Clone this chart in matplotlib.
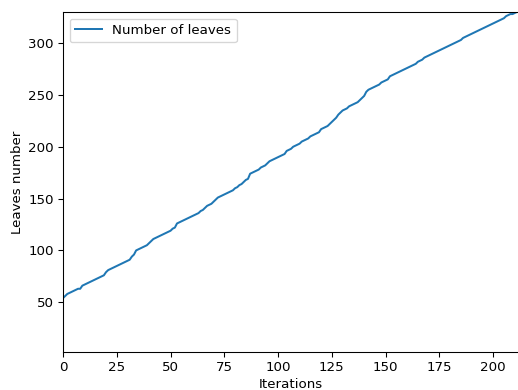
import matplotlib
matplotlib.use("Agg")
import matplotlib.pyplot as plt

# leaf count recorded after each iteration
leaves = [
    54, 56, 58, 59, 60, 61, 62, 63, 63, 66,
    67, 68, 69, 70, 71, 72, 73, 74, 75, 76,
    79, 81, 82, 83, 84, 85, 86, 87, 88, 89,
    90, 91, 94, 96, 100, 101, 102, 103, 104, 105,
    107, 109, 111, 112, 113, 114, 115, 116, 117, 118,
    119, 121, 122, 126, 127, 128, 129, 130, 131, 132,
    133, 134, 135, 136, 138, 139, 141, 143, 144, 145,
    147, 149, 151, 152, 153, 154, 155, 156, 157, 158,
    160, 161, 163, 164, 166, 168, 169, 174, 175, 176,
    177, 178, 180, 181, 182, 184, 186, 187, 188, 189,
    190, 191, 192, 193, 196, 197, 198, 200, 201, 202,
    203, 205, 206, 207, 208, 210, 211, 212, 213, 214,
    217, 218, 219, 220, 222, 224, 226, 228, 231, 233,
    235, 236, 237, 239, 240, 241, 242, 243, 245, 247,
    249, 253, 255, 256, 257, 258, 259, 260, 262, 263,
    264, 265, 268, 269, 270, 271, 272, 273, 274, 275,
    276, 277, 278, 279, 280, 282, 283, 284, 286, 287,
    288, 289, 290, 291, 292, 293, 294, 295, 296, 297,
    298, 299, 300, 301, 302, 303, 305, 306, 307, 308,
    309, 310, 311, 312, 313, 314, 315, 316, 317, 318,
    319, 320, 321, 322, 323, 324, 326, 327, 328, 328,
    329, 330,
]
iterations = list(range(len(leaves)))

DPI = 96
fig = plt.figure(figsize=(518 / DPI, 390 / DPI), dpi=DPI)
ax = fig.add_axes([63 / 518, 38 / 390, 456 / 518, 340 / 390])
ax.plot(iterations, leaves, label="Number of leaves")
ax.set_xlim(0, 212)
ax.set_ylim(2, 330)
ax.set_xticks([0, 25, 50, 75, 100, 125, 150, 175, 200])
ax.set_yticks([50, 100, 150, 200, 250, 300])
ax.set_xlabel("Iterations", labelpad=3)
ax.set_ylabel("Leaves number", labelpad=3)
ax.legend(loc="upper left")

fig.savefig("out.png", dpi=DPI)
